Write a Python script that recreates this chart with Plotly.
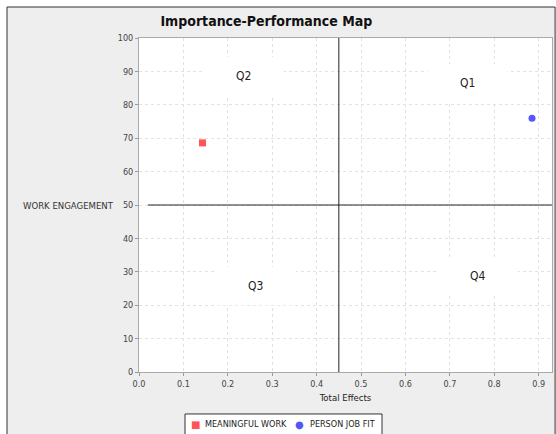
import plotly.graph_objects as go

# ---- data ----
series_names = ["MEANINGFUL WORK", "PERSON JOB FIT"]
total_effects = [0.143, 0.885]
performance = [68.6, 76.0]
series_colors = ["#FF5555", "#5555FF"]
series_symbols = ["square", "circle"]
legend_glyphs = ["■", "●"]

quadrant_labels = ["Q1", "Q2", "Q3", "Q4"]
quadrant_x = [0.74, 0.236, 0.263, 0.763]
quadrant_y = [86.5, 88.6, 25.7, 28.7]

mean_x = 0.45
mean_y = 50
x_ticks = [0.0, 0.1, 0.2, 0.3, 0.4, 0.5, 0.6, 0.7, 0.8, 0.9]
y_ticks = [0, 10, 20, 30, 40, 50, 60, 70, 80, 90, 100]

COND = "DejaVu Sans Condensed, DejaVu Sans, sans-serif"

fig = go.Figure()
for name, xv, yv, c, s in zip(series_names, total_effects, performance, series_colors, series_symbols):
    fig.add_trace(go.Scatter(
        x=[xv], y=[yv], mode="markers", name=name, showlegend=False,
        marker=dict(color=c, symbol=s, size=7, line=dict(width=0)),
    ))

shapes = [
    # outer frame background
    dict(type="rect", xref="paper", yref="paper", x0=-0.3196, x1=1.0075, y0=-0.3, y1=1.0928,
         fillcolor="#EEEEEE", line=dict(color="#333333", width=1), layer="below"),
    # plot area white
    dict(type="rect", xref="x domain", yref="y domain", x0=0, x1=1, y0=0, y1=1,
         fillcolor="white", line=dict(width=0), layer="below"),
    # reference lines
    dict(type="line", xref="x", yref="y domain", x0=mean_x, x1=mean_x, y0=0, y1=1,
         line=dict(color="#222222", width=1), layer="above"),
    dict(type="line", xref="x", yref="y", x0=0.02, x1=0.93, y0=mean_y, y1=mean_y,
         line=dict(color="#222222", width=1), layer="above"),
    # legend box
    dict(type="rect", xref="paper", yref="paper", x0=0.1114, x1=0.5884, y0=-0.21, y1=-0.1257,
         fillcolor="white", line=dict(color="#333333", width=1), layer="above"),
]
# white masks behind the quadrant labels
for qx, qy in zip(quadrant_x, quadrant_y):
    shapes.append(dict(type="rect", xref="x", yref="y",
                       x0=qx - 0.09, x1=qx + 0.09, y0=qy - 5.7, y1=qy + 5.7,
                       fillcolor="white", line=dict(width=0), layer="between"))

annotations = [
    dict(text="WORK ENGAGEMENT", xref="paper", yref="y", x=-0.056, y=mean_y,
         xanchor="right", yanchor="middle", showarrow=False,
         font=dict(family=COND, size=9.5, color="#333333")),
]
for lab, qx, qy in zip(quadrant_labels, quadrant_x, quadrant_y):
    annotations.append(dict(text=lab, x=qx, y=qy, xref="x", yref="y", showarrow=False,
                            font=dict(family=COND, size=12, color="#222222")))

# manual legend
legend_glyph_x = [0.1356, 0.3898]
legend_text_x = [0.155, 0.4092]
legend_y = -0.1557
for name, c, g, gx, tx in zip(series_names, series_colors, legend_glyphs, legend_glyph_x, legend_text_x):
    annotations.append(dict(text=g, xref="paper", yref="paper", x=gx, y=legend_y,
                            xanchor="center", yanchor="middle", showarrow=False,
                            font=dict(family="DejaVu Sans", size=10, color=c)))
    annotations.append(dict(text=name, xref="paper", yref="paper", x=tx, y=legend_y,
                            xanchor="left", yanchor="middle", showarrow=False,
                            font=dict(family=COND, size=9, color="#222222")))

fig.update_layout(
    width=556, height=434,
    margin=dict(l=139, r=4, t=38, b=62),
    paper_bgcolor="white",
    plot_bgcolor="white",
    title=dict(text="<b>Importance-Performance Map</b>", x=0.479, xanchor="center",
               y=0.952, yanchor="middle",
               font=dict(family=COND, size=14, color="#111111")),
    showlegend=False,
    shapes=shapes,
    annotations=annotations,
)
fig.update_xaxes(
    range=[0, 0.93], tickvals=x_ticks, ticktext=[f"{v:.1f}" for v in x_ticks],
    showgrid=True, gridcolor="#E2E2E2", griddash="dot", gridwidth=1,
    showline=True, linecolor="#AAAAAA", mirror=True, zeroline=False,
    ticks="outside", ticklen=3, tickcolor="#999999",
    tickfont=dict(family=COND, size=9, color="#444444"),
    title=dict(text="Total Effects", font=dict(family=COND, size=9.5, color="#222222"), standoff=6),
)
fig.update_yaxes(
    range=[0, 100], tickvals=y_ticks,
    showgrid=True, gridcolor="#E2E2E2", griddash="dot", gridwidth=1,
    showline=True, linecolor="#AAAAAA", mirror=True, zeroline=False,
    ticks="outside", ticklen=3, tickcolor="#999999",
    tickfont=dict(family=COND, size=9, color="#444444"),
)

fig.write_html("out.html", config={"displayModeBar": False},
               post_script="document.body.style.margin='0px';")
